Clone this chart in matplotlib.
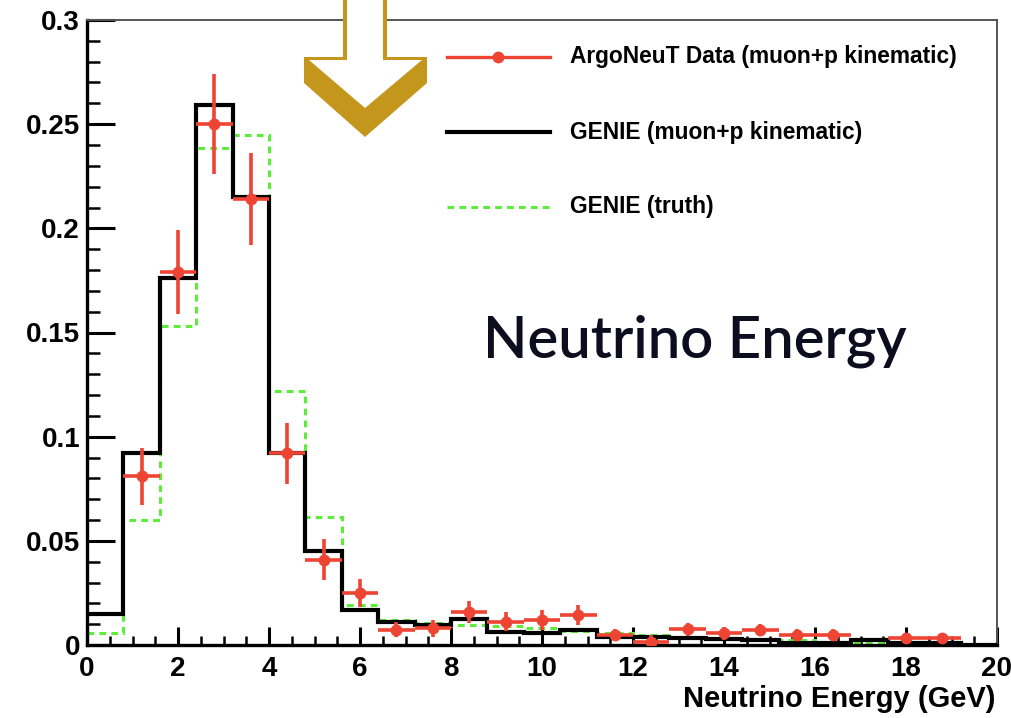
import numpy as np
import matplotlib
matplotlib.use("Agg")
import matplotlib.pyplot as plt
from matplotlib.lines import Line2D
from matplotlib.patches import Polygon

# ---------------- data ----------------
bin_edges = np.arange(0, 20.01, 0.8)
genie_kinematic = [0.015, 0.092, 0.176, 0.259, 0.215, 0.092, 0.045, 0.017, 0.0112, 0.0096,
                   0.0123, 0.0064, 0.0058, 0.0072, 0.0040, 0.0037, 0.0035, 0.0030, 0.0025, 0.0010,
                   0.0010, 0.0024, 0.0011, 0.0011, 0.0002]
genie_truth = [0.006, 0.060, 0.153, 0.2385, 0.245, 0.122, 0.0615, 0.0192, 0.012, 0.0105,
               0.0096, 0.0093, 0.0080, 0.0065, 0.0056, 0.0050, 0.0040, 0.0035, 0.0030, 0.0024,
               0.0006, 0.0015, 0.0012, 0.0008, 0.0003]
data_values = [np.nan, 0.081, 0.179, 0.250, 0.214, 0.092, 0.041, 0.025, 0.0073, 0.0080,
               0.016, 0.0112, 0.012, 0.0144, 0.0048, 0.0016, 0.0075, 0.0056, 0.0072, 0.0048,
               0.0048, np.nan, 0.0032, 0.0032, np.nan]
data_errors = [np.nan, 0.0136, 0.020, 0.024, 0.022, 0.0145, 0.0098, 0.0066, 0.0036, 0.004,
               0.0052, 0.0045, 0.0048, 0.005, 0.003, 0.003, 0.003, 0.003, 0.003, 0.003,
               0.003, np.nan, 0.0025, 0.0025, np.nan]
legend_labels = ["ArgoNeuT Data (muon+p kinematic)", "GENIE (muon+p kinematic)", "GENIE (truth)"]
x_label = "Neutrino Energy (GeV)"
big_label = "Neutrino Energy"
x_ticks = [0, 2, 4, 6, 8, 10, 12, 14, 16, 18, 20]
y_ticks = [0, 0.05, 0.1, 0.15, 0.2, 0.25, 0.3]
y_tick_labels = ["0", "0.05", "0.1", "0.15", "0.2", "0.25", "0.3"]

RED = "#ee4433"
GREEN = "#5eec3a"
GOLD = "#c4961c"

W, H = 1012, 718
fig = plt.figure(figsize=(W / 100, H / 100), dpi=100)
L, R, T, B = 87, 997, 20, 645
ax = fig.add_axes([L / W, 1 - B / H, (R - L) / W, (B - T) / H])

edges = np.asarray(bin_edges)
centers = 0.5 * (edges[:-1] + edges[1:])
half = 0.5 * np.diff(edges)

ax.stairs(genie_truth, edges, baseline=None, color=GREEN, lw=2.2,
          linestyle=(0, (2.2, 1.7)), zorder=2)
ax.stairs(genie_kinematic, edges, baseline=None, color="black", lw=3.0, zorder=3)
ax.errorbar(centers, data_values, yerr=data_errors, xerr=half, fmt="o", color=RED,
            ms=7.5, elinewidth=2.6, capsize=0, zorder=4)

ax.set_xlim(0, 20)
ax.set_ylim(0, 0.3)

font = "Liberation Sans"
ax.set_xticks(x_ticks)
ax.set_xticklabels([str(v) for v in x_ticks], fontfamily=font, fontweight="bold", fontsize=20)
ax.set_yticks(y_ticks)
ax.set_yticklabels(y_tick_labels, fontfamily=font, fontweight="bold", fontsize=20)
ax.set_xticks(np.arange(0, 20.01, 0.5), minor=True)
ax.set_yticks(np.arange(0, 0.3001, 0.01), minor=True)
ax.tick_params(axis="x", which="major", direction="in", length=13, width=2.2, pad=8)
ax.tick_params(axis="x", which="minor", direction="in", length=6.5, width=1.8)
ax.tick_params(axis="y", which="major", direction="in", length=20, width=2.2, pad=5)
ax.tick_params(axis="y", which="minor", direction="in", length=9.5, width=1.8)
ax.tick_params(top=False, right=False, which="both")

for s in ["left", "bottom"]:
    ax.spines[s].set_linewidth(2.4)
    ax.spines[s].set_color("black")
for s in ["top", "right"]:
    ax.spines[s].set_linewidth(1.4)
    ax.spines[s].set_color("#555555")

ax.text(0.998, -0.087, x_label, transform=ax.transAxes, ha="right", va="center",
        fontfamily=font, fontweight="bold", fontsize=21)

# legend (manual)
def axf(px, py):
    return (px - L) / (R - L), (B - py) / (B - T)

ys = [57, 132, 207]
x0, _ = axf(447, 0)
x1, _ = axf(550, 0)
xm, _ = axf(498, 0)
xt, _ = axf(570, 0)
_, y0 = axf(0, ys[0])
_, y1 = axf(0, ys[1])
_, y2 = axf(0, ys[2])
ax.add_line(Line2D([x0, x1], [y0, y0], color=RED, lw=2.4, transform=ax.transAxes))
ax.add_line(Line2D([xm], [y0], marker="o", ms=7.5, color=RED, transform=ax.transAxes))
ax.add_line(Line2D([x0, x1], [y1, y1], color="black", lw=3.0, transform=ax.transAxes))
ax.add_line(Line2D([x0, x1], [y2, y2], color=GREEN, lw=2.2, linestyle=(0, (2.2, 1.7)),
                   transform=ax.transAxes))
for yy, lab in zip([y0, y1, y2], legend_labels):
    ax.text(xt, yy, lab, transform=ax.transAxes, ha="left", va="center",
            fontfamily=font, fontweight="bold", fontsize=16.4)

# big annotation text
bx, by = axf(483, 341)
ax.text(bx, by, big_label, transform=ax.transAxes, ha="left", va="center",
        fontfamily="Lato", fontweight="semibold", fontsize=41.8, color="#0d0d20")

# gold arrow (figure pixel coordinates)
def ff(pts):
    return [(px / W, 1 - py / H) for px, py in pts]

outer = [(343, -5), (343, 57), (304, 57), (304, 83), (365, 137), (427, 83), (427, 57),
         (387, 57), (387, -5)]
inner = [(347, -5), (347, 60), (309, 60), (365, 108), (422, 60), (383, 60), (383, -5)]
fig.add_artist(Polygon(ff(outer), closed=True, facecolor=GOLD, edgecolor="none",
                       transform=fig.transFigure, zorder=10))
fig.add_artist(Polygon(ff(inner), closed=True, facecolor="white", edgecolor="none",
                       transform=fig.transFigure, zorder=11))

fig.savefig("out.png", dpi=100)
